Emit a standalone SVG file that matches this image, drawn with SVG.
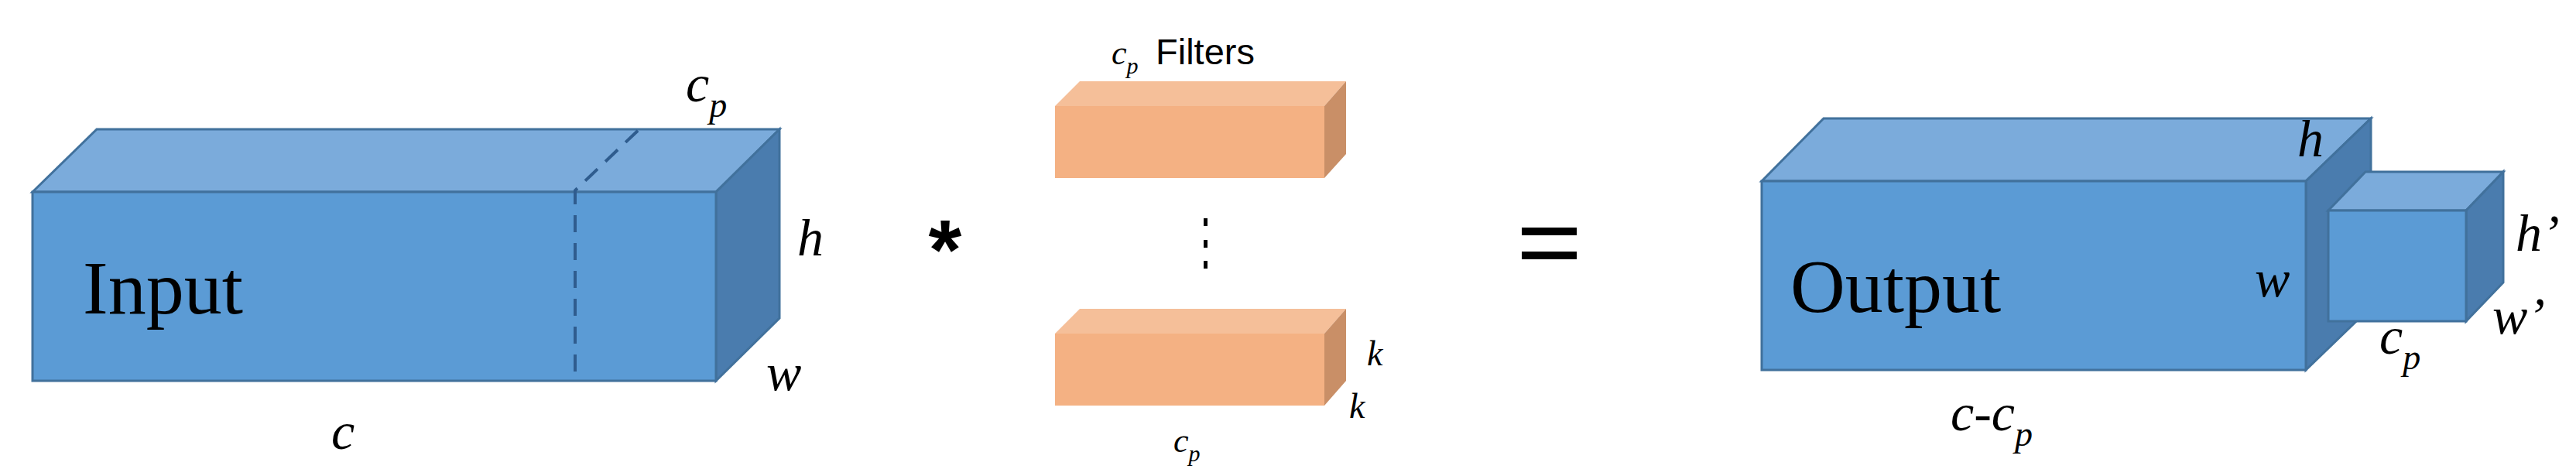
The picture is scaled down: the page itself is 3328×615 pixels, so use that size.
<svg xmlns="http://www.w3.org/2000/svg" width="3328" height="615" viewBox="0 0 3328 615">
<style>
.f{fill:#5B9BD5;stroke:#41719C;stroke-width:3}
.t{fill:#7BABDB;stroke:#41719C;stroke-width:3}
.s{fill:#4A7CAE;stroke:#41719C;stroke-width:3}
.of{fill:#F4B183}.ot{fill:#F5BF99}.os{fill:#C98F67}
.m{font-family:"Liberation Serif",serif;font-style:italic;font-size:68px;fill:#000}
.ms{font-family:"Liberation Serif",serif;font-style:italic;font-size:46px;fill:#000}
.big{font-family:"Liberation Serif",serif;font-size:98px;fill:#000}
</style>
<rect width="3328" height="615" fill="#fff"/>
<g id="input">
<polygon class="t" points="42,248 125,167 1007,167 925,248"/>
<polygon class="s" points="925,248 1007,167 1007,411 925,492"/>
<rect class="f" x="42" y="248" width="883" height="244"/>
<polyline points="743,480 743,246 828,165" fill="none" stroke="#2F5C8E" stroke-width="4" stroke-dasharray="22,14"/>
<text class="big" x="107" y="405">Input</text>
<text class="m" x="886" y="131">c<tspan class="ms" dy="20">p</tspan></text>
<text class="m" x="1030" y="330">h</text>
<text class="m" x="990" y="504">w</text>
<text class="m" x="428" y="580">c</text>
</g>
<g id="op">
<text x="1221" y="360" font-family="Liberation Sans,sans-serif" font-weight="bold" font-size="110" text-anchor="middle">*</text>
<rect x="1966" y="294" width="71" height="10"/>
<rect x="1966" y="325" width="71" height="10"/>
<rect x="1555" y="282" width="5" height="10"/>
<rect x="1555" y="310" width="5" height="10"/>
<rect x="1555" y="337" width="5" height="10"/>
</g>
<g id="filter1">
<polygon class="ot" points="1363,137 1395,105 1739,105 1711,137"/>
<polygon class="os" points="1711,137 1739,105 1739,199 1711,230"/>
<rect class="of" x="1363" y="137" width="348" height="93"/>
<text x="1436" y="83" font-family="Liberation Serif,serif" font-style="italic" font-size="44">c<tspan font-size="30" dy="12">p</tspan></text>
<text x="1493" y="83" font-family="Liberation Sans,sans-serif" font-size="47">Filters</text>
</g>
<g id="filter2">
<polygon class="ot" points="1363,431 1395,399 1739,399 1711,431"/>
<polygon class="os" points="1711,431 1739,399 1739,492 1711,524"/>
<rect class="of" x="1363" y="431" width="348" height="93"/>
<text x="1766" y="472" font-family="Liberation Serif,serif" font-style="italic" font-size="46">k</text>
<text x="1743" y="540" font-family="Liberation Serif,serif" font-style="italic" font-size="46">k</text>
<text x="1516" y="584" font-family="Liberation Serif,serif" font-style="italic" font-size="44">c<tspan font-size="30" dy="12">p</tspan></text>
</g>
<g id="output">
<polygon class="t" points="2276,234 2356,153 3063,153 2979,234"/>
<polygon class="s" points="2979,234 3063,153 3063,397 2979,478"/>
<rect class="f" x="2276" y="234" width="703" height="244"/>
<text class="big" x="2313" y="403">Output</text>
<text class="m" x="2968" y="202">h</text>
<text class="m" x="2913" y="383">w</text>
<text class="m" x="2520" y="556">c-c<tspan class="ms" dy="20">p</tspan></text>
</g>
<g id="slice">
<polygon class="t" points="3008,272 3056,222 3234,222 3186,272"/>
<polygon class="s" points="3186,272 3234,222 3234,365 3186,415"/>
<rect class="f" x="3008" y="272" width="178" height="143"/>
<text class="m" x="3250" y="324">h’</text>
<text class="m" x="3220" y="431">w’</text>
<text class="m" x="3074" y="457">c<tspan class="ms" dy="20">p</tspan></text>
</g>
<g id="connectors"/>
</svg>
